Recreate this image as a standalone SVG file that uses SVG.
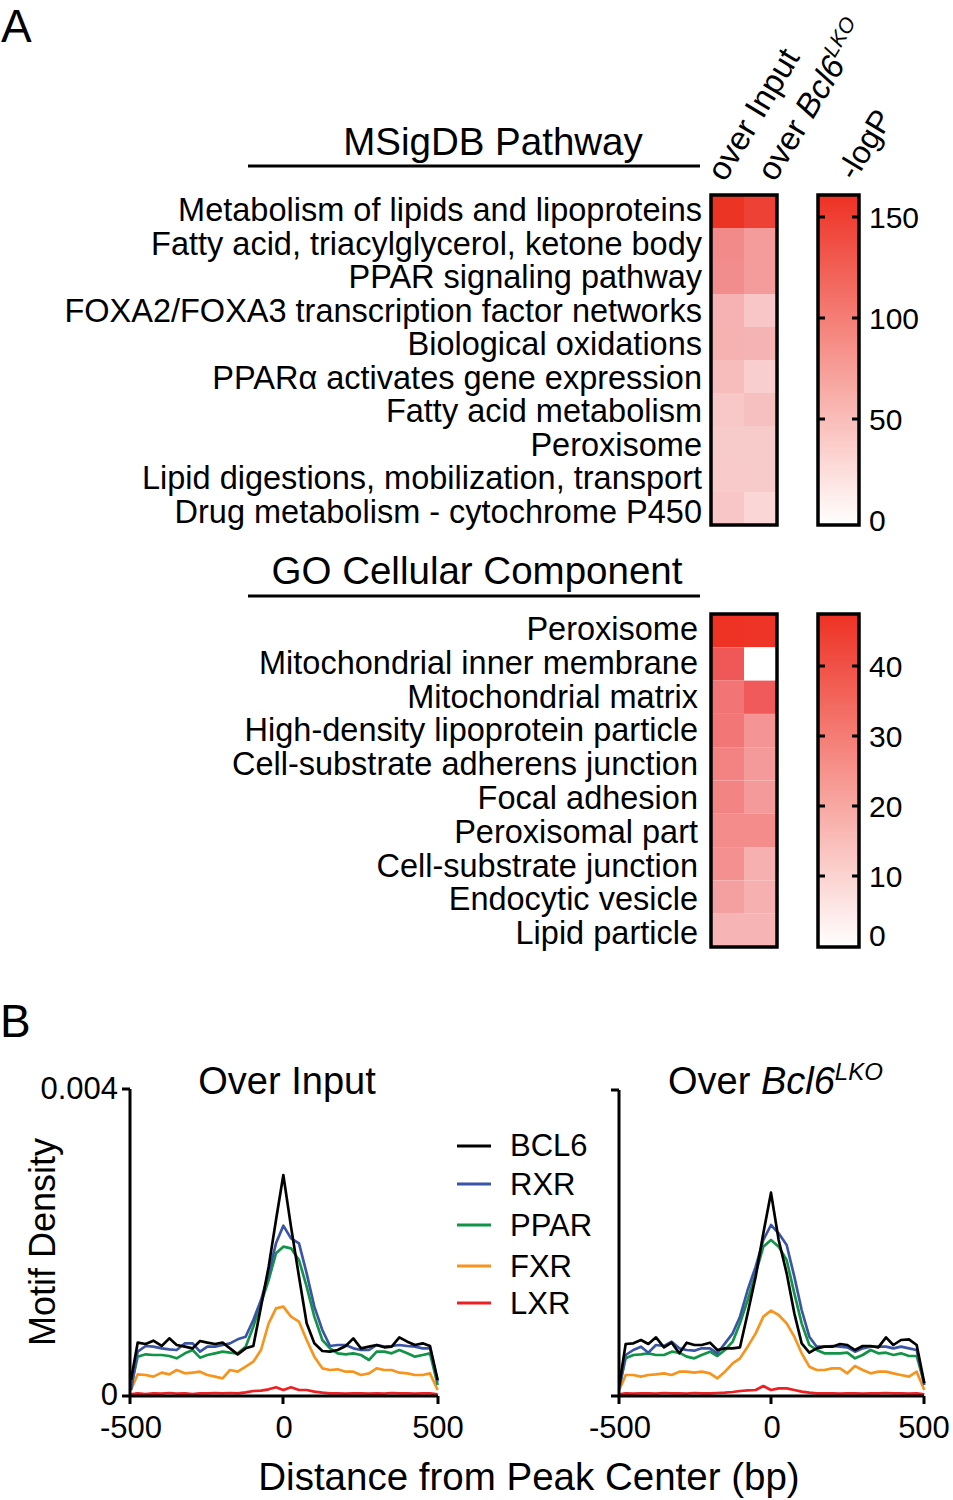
<svg xmlns="http://www.w3.org/2000/svg" width="953" height="1500" viewBox="0 0 953 1500">
<defs>
<linearGradient id="gradTop" x1="0" y1="0" x2="0" y2="1">
<stop offset="0" stop-color="#EE3124"/><stop offset="1" stop-color="#FFFFFF"/>
</linearGradient>
<style>
text{font-family:"Liberation Sans",Arial,Helvetica,sans-serif;fill:#000}
.lab{font-size:32.5px;text-anchor:end}
.head{font-size:38.5px;text-anchor:middle}
.tick{font-size:30px}
.box{fill:none;stroke:#000;stroke-width:3.5}
.ax{fill:none;stroke:#000;stroke-width:3}
.cv{fill:none;stroke-width:8;stroke-linejoin:round}
.panel{font-size:46px}
</style>
</defs>
<rect width="953" height="1500" fill="#fff"/>
<text class="panel" x="1" y="42">A</text>
<text class="panel" x="0" y="1037">B</text>

<g id="colheaders">
<text font-size="33" transform="translate(725 183) rotate(-59)">over Input</text>
<text font-size="33" transform="translate(775 183) rotate(-59)">over <tspan font-style="italic">Bcl6</tspan><tspan font-style="italic" font-size="21" dy="-13">LKO</tspan></text>
<text font-size="32" transform="translate(855 182) rotate(-59)">-logP</text>
</g>

<g id="msigdb">
<text class="head" x="493" y="155">MSigDB Pathway</text>
<line x1="248" y1="166" x2="700" y2="166" stroke="#000" stroke-width="3"/>
<text class="lab" x="702" y="221">Metabolism of lipids and lipoproteins</text>
<text class="lab" x="702" y="254.5">Fatty acid, triacylglycerol, ketone body</text>
<text class="lab" x="702" y="288">PPAR signaling pathway</text>
<text class="lab" x="702" y="321.5">FOXA2/FOXA3 transcription factor networks</text>
<text class="lab" x="702" y="355">Biological oxidations</text>
<text class="lab" x="702" y="388.5">PPARα activates gene expression</text>
<text class="lab" x="702" y="422">Fatty acid metabolism</text>
<text class="lab" x="702" y="455.5">Peroxisome</text>
<text class="lab" x="702" y="489">Lipid digestions, mobilization, transport</text>
<text class="lab" x="702" y="522.5">Drug metabolism - cytochrome P450</text>
<g id="heat1">
<rect x="711" y="195" width="33" height="33" fill="#EC3425"/><rect x="744" y="195" width="33" height="33" fill="#EE4136"/>
<rect x="711" y="228" width="33" height="33" fill="#F28A8A"/><rect x="744" y="228" width="33" height="33" fill="#F49C9C"/>
<rect x="711" y="261" width="33" height="33" fill="#F28D8D"/><rect x="744" y="261" width="33" height="33" fill="#F49B9B"/>
<rect x="711" y="294" width="33" height="33" fill="#F6B2B2"/><rect x="744" y="294" width="33" height="33" fill="#F8C6C6"/>
<rect x="711" y="327" width="33" height="33" fill="#F6B1B1"/><rect x="744" y="327" width="33" height="33" fill="#F6B3B3"/>
<rect x="711" y="360" width="33" height="33" fill="#F7BCBC"/><rect x="744" y="360" width="33" height="33" fill="#F9CECE"/>
<rect x="711" y="393" width="33" height="33" fill="#F8C8C8"/><rect x="744" y="393" width="33" height="33" fill="#F7C0C0"/>
<rect x="711" y="426" width="33" height="33" fill="#F8CBCB"/><rect x="744" y="426" width="33" height="33" fill="#F8CBCB"/>
<rect x="711" y="459" width="33" height="33" fill="#F8CACA"/><rect x="744" y="459" width="33" height="33" fill="#F8CBCB"/>
<rect x="711" y="492" width="33" height="33" fill="#F8C6C6"/><rect x="744" y="492" width="33" height="33" fill="#FAD6D6"/>
<rect class="box" x="711" y="195" width="66" height="330"/>
</g>
<g id="cbar1">
<rect x="818" y="195" width="41" height="330" fill="url(#gradTop)"/>
<rect class="box" x="818" y="195" width="41" height="330"/>
<path d="M818 217h7M852 217h7M818 318h7M852 318h7M818 419h7M852 419h7" stroke="#000" stroke-width="3"/>
<text class="tick" x="869" y="228">150</text>
<text class="tick" x="869" y="329">100</text>
<text class="tick" x="869" y="430">50</text>
<text class="tick" x="869" y="531">0</text>
</g>
</g>

<g id="gocc">
<text class="head" x="477" y="584">GO Cellular Component</text>
<line x1="248" y1="596" x2="700" y2="596" stroke="#000" stroke-width="3"/>
<text class="lab" x="698" y="640">Peroxisome</text>
<text class="lab" x="698" y="673.8">Mitochondrial inner membrane</text>
<text class="lab" x="698" y="707.6">Mitochondrial matrix</text>
<text class="lab" x="698" y="741.4">High-density lipoprotein particle</text>
<text class="lab" x="698" y="775.2">Cell-substrate adherens junction</text>
<text class="lab" x="698" y="809">Focal adhesion</text>
<text class="lab" x="698" y="842.8">Peroxisomal part</text>
<text class="lab" x="698" y="876.6">Cell-substrate junction</text>
<text class="lab" x="698" y="910.4">Endocytic vesicle</text>
<text class="lab" x="698" y="944.2">Lipid particle</text>
<g id="heat2">
<rect x="711" y="614" width="33" height="33.3" fill="#EE3224"/><rect x="744" y="614" width="33" height="33.3" fill="#EE3426"/>
<rect x="711" y="647.3" width="33" height="33.3" fill="#F05858"/><rect x="744" y="647.3" width="33" height="33.3" fill="#FFFFFF"/>
<rect x="711" y="680.6" width="33" height="33.3" fill="#F27474"/><rect x="744" y="680.6" width="33" height="33.3" fill="#F05A5A"/>
<rect x="711" y="713.9" width="33" height="33.3" fill="#F27676"/><rect x="744" y="713.9" width="33" height="33.3" fill="#F49494"/>
<rect x="711" y="747.2" width="33" height="33.3" fill="#F38282"/><rect x="744" y="747.2" width="33" height="33.3" fill="#F59A9A"/>
<rect x="711" y="780.5" width="33" height="33.3" fill="#F38484"/><rect x="744" y="780.5" width="33" height="33.3" fill="#F59A9A"/>
<rect x="711" y="813.8" width="33" height="33.3" fill="#F48C8C"/><rect x="744" y="813.8" width="33" height="33.3" fill="#F48C8C"/>
<rect x="711" y="847.1" width="33" height="33.3" fill="#F49090"/><rect x="744" y="847.1" width="33" height="33.3" fill="#F7B0B0"/>
<rect x="711" y="880.4" width="33" height="33.3" fill="#F5A0A0"/><rect x="744" y="880.4" width="33" height="33.3" fill="#F7B0B0"/>
<rect x="711" y="913.7" width="33" height="33.3" fill="#F7B4B4"/><rect x="744" y="913.7" width="33" height="33.3" fill="#F7B4B4"/>
<rect class="box" x="711" y="614" width="66" height="333"/>
</g>
<g id="cbar2">
<rect x="818" y="614" width="41" height="333" fill="url(#gradTop)"/>
<rect class="box" x="818" y="614" width="41" height="333"/>
<path d="M818 666h7M852 666h7M818 736h7M852 736h7M818 806h7M852 806h7M818 876h7M852 876h7" stroke="#000" stroke-width="3"/>
<text class="tick" x="869" y="677">40</text>
<text class="tick" x="869" y="747">30</text>
<text class="tick" x="869" y="817">20</text>
<text class="tick" x="869" y="887">10</text>
<text class="tick" x="869" y="946">0</text>
</g>
</g>

<g id="plotLeft">
<text font-size="38" text-anchor="middle" x="287" y="1094">Over Input</text>
<text font-size="31" text-anchor="end" x="118" y="1099">0.004</text>
<text font-size="31" text-anchor="end" x="118" y="1405">0</text>
<text font-size="31" text-anchor="middle" x="131" y="1438">-500</text>
<text font-size="31" text-anchor="middle" x="284" y="1438">0</text>
<text font-size="31" text-anchor="middle" x="438" y="1438">500</text>
<g transform="translate(0 1060) scale(0.33333)">
<polyline class="cv" stroke="#ED2024" points="393,1003 413,1000 437,1002 460,1000 485,1001 508,999 530,1001 555,1000 578,1002 600,1000 622,1000 645,999 668,1000 690,999 713,1000 737,997 760,993 783,992 806,988 828,982 850,990 873,982 897,990 920,990 943,995 967,998 990,1000 1013,1000 1037,1001 1060,1000 1083,1000 1107,1001 1130,1000 1153,1001 1175,999 1198,1000 1222,1000 1245,1001 1268,1000 1290,1000 1313,1003"/>
<polyline class="cv" stroke="#F7941D" points="393,990 413,943 437,945 460,950 485,938 508,943 530,930 555,940 578,938 600,935 622,945 645,950 668,955 690,930 713,935 737,920 760,905 783,870 806,790 828,745 850,740 873,770 897,785 920,840 943,890 967,925 990,930 1013,928 1037,935 1060,935 1083,945 1107,940 1130,925 1153,930 1175,930 1198,938 1222,940 1245,945 1268,945 1290,940 1313,990"/>
<polyline class="cv" stroke="#129448" points="393,980 413,890 437,883 460,885 485,885 508,888 530,895 555,880 578,870 600,893 622,885 645,880 668,875 690,878 713,880 737,860 760,800 783,730 806,660 828,580 850,560 873,565 897,600 920,680 943,770 967,840 990,865 1013,880 1037,883 1060,880 1083,885 1107,900 1130,875 1153,875 1175,880 1198,870 1222,880 1245,890 1268,885 1290,880 1313,975"/>
<polyline class="cv" stroke="#3A55A5" points="393,990 413,875 437,858 460,860 485,865 508,868 530,870 555,850 578,850 600,875 622,860 645,860 668,855 690,850 713,838 737,830 760,780 783,720 806,640 828,550 850,497 873,535 897,550 920,640 943,740 967,810 990,858 1013,855 1037,855 1060,865 1083,870 1107,870 1130,855 1153,860 1175,858 1198,855 1222,858 1245,860 1268,865 1290,865 1313,965"/>
<polyline class="cv" stroke="#000000" points="393,960 413,848 437,852 460,842 485,858 508,835 530,855 555,860 578,865 600,843 622,848 645,852 668,848 690,865 713,883 737,865 760,858 783,740 806,620 828,480 850,345 873,500 897,650 920,790 943,850 967,873 990,875 1013,870 1037,858 1060,835 1083,865 1107,860 1130,855 1153,862 1175,860 1198,832 1222,845 1245,855 1268,850 1290,858 1313,960"/>
</g>
<path class="ax" d="M130 1089V1396H438M122 1089H130M122 1396H130M130 1396V1404M283 1396V1404M438 1396V1404"/>
</g>

<g id="legend">
<path d="M457 1146H491" stroke="#000" stroke-width="3"/>
<path d="M457 1184H491" stroke="#3A55A5" stroke-width="3"/>
<path d="M457 1225H491" stroke="#129448" stroke-width="3"/>
<path d="M457 1266H491" stroke="#F7941D" stroke-width="3"/>
<path d="M457 1303H491" stroke="#ED2024" stroke-width="3"/>
<text font-size="31" x="510" y="1156">BCL6</text>
<text font-size="31" x="510" y="1195">RXR</text>
<text font-size="31" x="510" y="1236">PPAR</text>
<text font-size="31" x="510" y="1277">FXR</text>
<text font-size="31" x="510" y="1314">LXR</text>
</g>

<g id="plotRight">
<text font-size="38" x="668" y="1094">Over <tspan font-style="italic">Bcl6</tspan><tspan font-style="italic" font-size="24" dy="-14">LKO</tspan></text>
<text font-size="31" text-anchor="middle" x="620" y="1438">-500</text>
<text font-size="31" text-anchor="middle" x="772" y="1438">0</text>
<text font-size="31" text-anchor="middle" x="924" y="1438">500</text>
<g transform="translate(580 1060) scale(0.33333)">
<polyline class="cv" stroke="#ED2024" points="118,1003 137,1000 160,1001 183,1000 205,1000 228,1001 252,999 275,1000 298,1000 320,1001 343,999 365,1000 390,1000 412,999 435,998 458,996 480,993 503,991 527,990 550,978 573,990 596,985 620,985 643,990 665,995 688,998 710,1000 733,1000 757,1000 780,1001 802,1000 825,1000 848,1001 872,1000 895,1000 918,999 940,1000 963,1000 987,1001 1010,1000 1033,1003"/>
<polyline class="cv" stroke="#F7941D" points="118,990 137,945 160,945 183,950 205,945 228,943 252,940 275,945 298,935 320,935 343,938 365,935 390,940 412,955 435,935 458,910 480,895 503,860 527,820 550,770 573,752 596,765 620,790 643,830 665,880 688,920 710,930 733,930 757,925 780,925 802,940 825,918 848,930 872,940 895,935 918,935 940,940 963,945 987,950 1010,935 1033,990"/>
<polyline class="cv" stroke="#129448" points="118,980 137,895 160,885 183,883 205,880 228,885 252,885 275,875 298,878 320,890 343,895 365,885 390,875 412,888 435,870 458,845 480,790 503,720 527,640 550,560 573,540 596,560 620,600 643,700 665,790 688,855 710,870 733,880 757,880 780,880 802,878 825,895 848,885 872,870 895,880 918,878 940,885 963,880 987,888 1010,888 1033,970"/>
<polyline class="cv" stroke="#3A55A5" points="118,985 137,885 160,870 183,860 205,878 228,855 252,858 275,845 298,865 320,870 343,872 365,865 390,865 412,880 435,850 458,820 480,770 503,690 527,620 550,540 573,495 596,520 620,555 643,650 665,750 688,830 710,860 733,860 757,858 780,860 802,862 825,875 848,865 872,860 895,860 918,860 940,865 963,860 987,865 1010,870 1033,975"/>
<polyline class="cv" stroke="#000000" points="118,975 137,852 160,850 183,840 205,852 228,832 252,862 275,848 298,880 320,848 343,855 365,855 390,848 412,870 435,865 458,865 480,862 503,760 527,650 550,520 573,398 596,540 620,640 643,760 665,850 688,878 710,865 733,860 757,860 780,852 802,855 825,870 848,858 872,858 895,862 918,832 940,855 963,840 987,838 1010,855 1033,970"/>
</g>
<path class="ax" d="M619 1090V1396H924M611 1090H619M611 1396H619M619 1396V1404M771 1396V1404M924 1396V1404"/>
</g>

<g id="axisTitles">
<text font-size="36" text-anchor="middle" transform="translate(55 1242) rotate(-90)">Motif Density</text>
<text font-size="38.5" text-anchor="middle" x="529" y="1490">Distance from Peak Center (bp)</text>
</g>
</svg>
